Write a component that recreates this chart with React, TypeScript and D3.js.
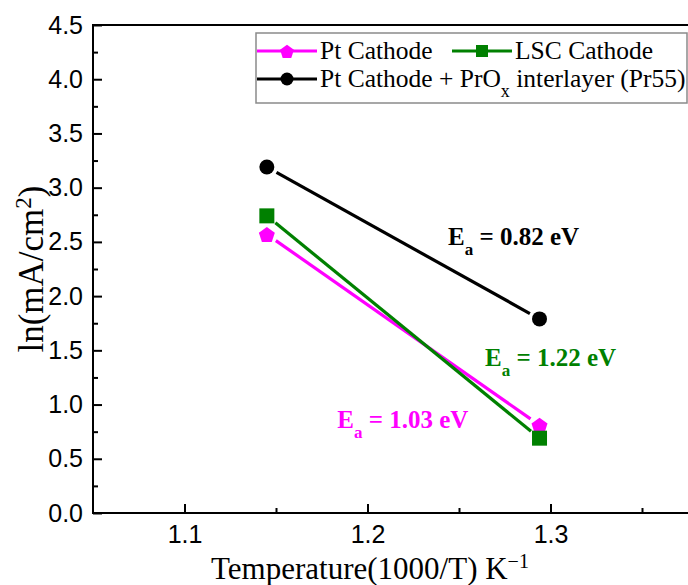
import React, { useRef, useEffect } from 'react';
import * as d3 from 'd3';

// values
const invTemp = [1.145, 1.294];
const ptCathode = [2.57, 0.81];
const lscCathode = [2.74, 0.69];
const prOxInterlayer = [3.19, 1.79];

// the 1.4 tick lies past the right edge of the picture, so only these show
const xMajor = [1.1, 1.2, 1.3];
const xMinor = [1.15, 1.25, 1.35];
const yMajor = [0, 0.5, 1, 1.5, 2, 2.5, 3, 3.5, 4, 4.5];
const yMinor = [0.25, 0.75, 1.25, 1.75, 2.25, 2.75, 3.25, 3.75, 4.25];

const series = [
  { key: 'pt', values: ptCathode, color: '#ff00ff', symbol: 'pentagon' },
  { key: 'lsc', values: lscCathode, color: '#008000', symbol: 'square' },
  { key: 'pr', values: prOxInterlayer, color: '#000000', symbol: 'circle' },
];

const annotations = [
  { key: 'pr', value: '0.82', color: '#000000', x: 1.244, y: 2.47 },
  { key: 'lsc', value: '1.22', color: '#008000', x: 1.2642, y: 1.36 },
  { key: 'pt', value: '1.03', color: '#ff00ff', x: 1.1835, y: 0.78 },
];

const W = 688;
const H = 585;

const pentagonPath = (r: number) => {
  const pts: [number, number][] = d3.range(5).map(i => {
    const a = -Math.PI / 2 + (i * 2 * Math.PI) / 5;
    return [r * Math.cos(a), r * Math.sin(a)];
  });
  return d3.line()(pts) + 'Z';
};

const drawMarker = (g: any, type: string, cx: number, cy: number, color: string, size: number) => {
  if (type === 'circle') {
    g.append('circle').attr('cx', cx).attr('cy', cy).attr('r', size).attr('fill', color);
  } else if (type === 'square') {
    g.append('rect')
      .attr('x', cx - size).attr('y', cy - size)
      .attr('width', size * 2).attr('height', size * 2)
      .attr('fill', color);
  } else {
    g.append('path')
      .attr('d', pentagonPath(size * 1.12))
      .attr('transform', `translate(${cx},${cy + 1})`)
      .attr('fill', color);
  }
};

const App = () => {
  const svgRef = useRef<SVGSVGElement>(null);

  useEffect(() => {
    const svg = d3.select(svgRef.current);
    svg.selectAll('*').remove();

    const left = 93, top = 25, bottom = 513;
    const x = d3.scaleLinear().domain([1.05, 1.4]).range([left, left + 0.35 * 1830]);
    const y = d3.scaleLinear().domain([0, 4.5]).range([bottom, top]);
    const serif = 'Liberation Serif, Times New Roman, serif';

    // frame (right border falls outside the picture, as in the original)
    svg.append('rect')
      .attr('x', x(1.05)).attr('y', y(4.5))
      .attr('width', x(1.4) - x(1.05)).attr('height', y(0) - y(4.5))
      .attr('fill', 'none').attr('stroke', '#000').attr('stroke-width', 2);

    // x axis
    const gx = svg.append('g').attr('transform', `translate(0,${bottom})`);
    gx.call(d3.axisBottom(x).tickValues(xMajor).tickSizeInner(-9).tickSizeOuter(0)
      .tickPadding(12).tickFormat(d3.format('.1f')));
    gx.append('g').call(d3.axisBottom(x).tickValues(xMinor).tickSizeInner(-5).tickSizeOuter(0)
      .tickFormat(() => ''));
    gx.selectAll('.domain').remove();

    // y axis
    const gy = svg.append('g').attr('transform', `translate(${left},0)`);
    gy.call(d3.axisLeft(y).tickValues(yMajor).tickSizeInner(-9).tickSizeOuter(0)
      .tickPadding(10).tickFormat(d3.format('.1f')));
    gy.append('g').call(d3.axisLeft(y).tickValues(yMinor).tickSizeInner(-5).tickSizeOuter(0)
      .tickFormat(() => ''));
    gy.selectAll('.domain').remove();

    svg.selectAll('.tick line').attr('stroke', '#000').attr('stroke-width', 2);
    svg.selectAll('.tick text')
      .attr('font-family', 'Liberation Sans, Arial, sans-serif')
      .attr('font-size', 25).attr('fill', '#000');

    // axis titles
    const xt = svg.append('text')
      .attr('x', 370).attr('y', 579)
      .attr('text-anchor', 'middle')
      .attr('font-family', serif)
      .attr('font-size', 31);
    xt.append('tspan').text('Temperature(1000/T) K');
    xt.append('tspan').attr('baseline-shift', 'super').attr('font-size', 20).text('\u22121');

    const yt = svg.append('text')
      .attr('transform', `translate(43,${(top + bottom) / 2}) rotate(-90)`)
      .attr('text-anchor', 'middle')
      .attr('font-family', serif)
      .attr('font-size', 35);
    yt.append('tspan').text('ln(mA/cm');
    yt.append('tspan').attr('baseline-shift', 'super').attr('font-size', 23).text('2');
    yt.append('tspan').text(')');

    // series
    const gap = 11;
    series.forEach(s => {
      const p0 = [x(invTemp[0]), y(s.values[0])];
      const p1 = [x(invTemp[1]), y(s.values[1])];
      const dx = p1[0] - p0[0], dy = p1[1] - p0[1];
      const len = Math.hypot(dx, dy);
      const ux = dx / len, uy = dy / len;
      const seg: [number, number][] = [
        [p0[0] + ux * gap, p0[1] + uy * gap],
        [p1[0] - ux * gap, p1[1] - uy * gap],
      ];
      svg.append('path')
        .attr('d', d3.line()(seg))
        .attr('fill', 'none').attr('stroke', s.color).attr('stroke-width', 3.2);
      invTemp.forEach((t, i) => drawMarker(svg, s.symbol, x(t), y(s.values[i]), s.color, 7.5));
    });

    // activation energy labels
    annotations.forEach(a => {
      const t = svg.append('text')
        .attr('x', x(a.x)).attr('y', y(a.y))
        .attr('font-family', serif)
        .attr('font-weight', 'bold').attr('font-size', 25).attr('fill', a.color);
      t.append('tspan').text('E');
      t.append('tspan').attr('baseline-shift', 'sub').attr('font-size', 17).text('a');
      t.append('tspan').text(` = ${a.value} eV`);
    });

    // legend
    const lg = svg.append('g');
    lg.append('rect')
      .attr('x', 256).attr('y', 33).attr('width', 431).attr('height', 70)
      .attr('fill', '#fff').attr('stroke', '#8a8a8a').attr('stroke-width', 1.5);
    const rows = [
      { s: series[0], lx: 257, ly: 51, label: ['Pt Cathode'] },
      { s: series[1], lx: 452, ly: 51, label: ['LSC Cathode'] },
      { s: series[2], lx: 257, ly: 79, label: ['Pt Cathode + PrO', 'x', ' interlayer (Pr55)'] },
    ];
    rows.forEach(r => {
      lg.append('line')
        .attr('x1', r.lx).attr('x2', r.lx + 60).attr('y1', r.ly).attr('y2', r.ly)
        .attr('stroke', r.s.color).attr('stroke-width', 3.2);
      drawMarker(lg, r.s.symbol, r.lx + 30, r.ly, r.s.color, r.s.symbol === 'square' ? 6 : 6.5);
      const t = lg.append('text')
        .attr('x', r.lx + 63).attr('y', r.ly + 8)
        .attr('font-family', serif).attr('font-size', 25.5).attr('fill', '#000');
      t.append('tspan').text(r.label[0]);
      if (r.label.length > 1) {
        t.append('tspan').attr('baseline-shift', 'sub').attr('font-size', 18).text(r.label[1]);
        t.append('tspan').text(r.label[2]);
      }
    });
  }, []);

  return (
    <div style={{ position: 'absolute', left: 0, top: 0 }}>
      <svg ref={svgRef} width={W} height={H} style={{ display: 'block', background: '#fff' }} />
    </div>
  );
};

export default App;
